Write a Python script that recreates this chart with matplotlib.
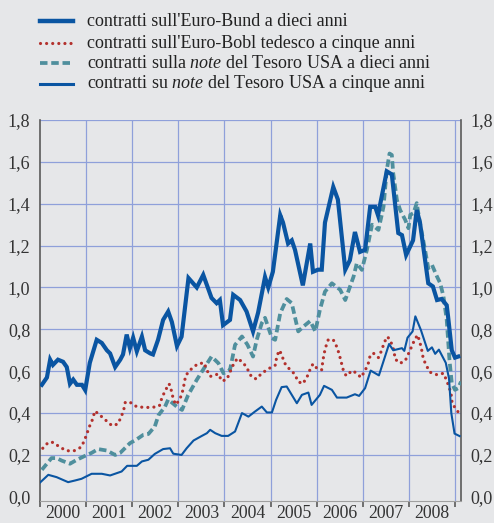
import numpy as np
import matplotlib
matplotlib.use("Agg")
import matplotlib.pyplot as plt
from matplotlib.lines import Line2D

plt.rcParams['font.family'] = ['Liberation Serif', 'DejaVu Serif']
plt.rcParams['mathtext.fontset'] = 'custom'
plt.rcParams['mathtext.rm'] = 'Liberation Serif'
plt.rcParams['mathtext.it'] = 'Liberation Serif:italic'

# --- data (decimal years) ---
bund_t = [2000.04, 2000.15, 2000.22, 2000.28, 2000.39, 2000.50, 2000.58, 2000.65, 2000.72, 2000.80,
          2000.91, 2000.98, 2001.08, 2001.23, 2001.34, 2001.45, 2001.52, 2001.63, 2001.74, 2001.80,
          2001.88, 2001.95, 2002.02, 2002.10, 2002.21, 2002.28, 2002.39, 2002.45, 2002.56, 2002.67,
          2002.78, 2002.86, 2002.97, 2003.07, 2003.22, 2003.40, 2003.54, 2003.72, 2003.83, 2003.90,
          2003.97, 2004.12, 2004.19, 2004.34, 2004.48, 2004.62, 2004.73, 2004.88, 2004.95, 2005.05,
          2005.21, 2005.27, 2005.38, 2005.46, 2005.53, 2005.70, 2005.86, 2005.92, 2006.03, 2006.11,
          2006.18, 2006.36, 2006.46, 2006.62, 2006.72, 2006.83, 2006.94, 2007.05, 2007.16, 2007.27,
          2007.33, 2007.52, 2007.63, 2007.77, 2007.85, 2007.94, 2008.09, 2008.17, 2008.24, 2008.42,
          2008.52, 2008.61, 2008.71, 2008.82, 2008.85, 2008.93, 2009.00, 2009.07]
bund_v = [0.535, 0.57, 0.655, 0.63, 0.655, 0.645, 0.62, 0.54, 0.56, 0.535,
          0.535, 0.51, 0.64, 0.75, 0.735, 0.70, 0.685, 0.62, 0.655, 0.68,
          0.775, 0.71, 0.76, 0.695, 0.765, 0.70, 0.685, 0.68, 0.75, 0.845,
          0.885, 0.835, 0.72, 0.765, 1.045, 1.0, 1.06, 0.95, 0.925, 0.94,
          0.82, 0.845, 0.965, 0.94, 0.885, 0.79, 0.88, 1.05, 1.0, 1.075,
          1.345, 1.31, 1.21, 1.225, 1.18, 1.01, 1.21, 1.075, 1.085, 1.085,
          1.31, 1.48, 1.42, 1.085, 1.13, 1.265, 1.17, 1.18, 1.385, 1.385,
          1.345, 1.555, 1.54, 1.26, 1.25, 1.155, 1.225, 1.37, 1.31, 1.02,
          1.005, 0.94, 0.945, 0.915, 0.86, 0.70, 0.665, 0.67]

bobl_t = [2000.06, 2000.18, 2000.29, 2000.43, 2000.58, 2000.74, 2000.89, 2000.96, 2001.08, 2001.14,
          2001.19, 2001.30, 2001.43, 2001.56, 2001.68, 2001.76, 2001.82, 2001.85, 2001.95, 2002.10,
          2002.28, 2002.44, 2002.59, 2002.64, 2002.71, 2002.80, 2002.86, 2002.89, 2002.95, 2003.04,
          2003.10, 2003.16, 2003.28, 2003.42, 2003.56, 2003.62, 2003.69, 2003.87, 2003.94, 2004.05,
          2004.19, 2004.28, 2004.41, 2004.50, 2004.59, 2004.69, 2004.81, 2004.95, 2005.11, 2005.13,
          2005.19, 2005.24, 2005.30, 2005.41, 2005.52, 2005.60, 2005.70, 2005.79, 2005.86, 2005.92,
          2006.02, 2006.11, 2006.13, 2006.16, 2006.20, 2006.25, 2006.36, 2006.44, 2006.49, 2006.58,
          2006.64, 2006.77, 2006.87, 2006.96, 2007.05, 2007.12, 2007.16, 2007.23, 2007.34, 2007.41,
          2007.47, 2007.54, 2007.63, 2007.68, 2007.70, 2007.81, 2007.92, 2007.99, 2008.06, 2008.13,
          2008.19, 2008.24, 2008.28, 2008.31, 2008.37, 2008.46, 2008.61, 2008.75, 2008.82, 2008.88,
          2008.92, 2008.94, 2009.04, 2009.13]
bobl_v = [0.232, 0.26, 0.26, 0.237, 0.22, 0.22, 0.237, 0.267, 0.34, 0.37,
          0.41, 0.39, 0.365, 0.34, 0.347, 0.38, 0.42, 0.452, 0.452, 0.43,
          0.427, 0.427, 0.435, 0.47, 0.505, 0.54, 0.50, 0.465, 0.44, 0.47,
          0.51, 0.58, 0.61, 0.635, 0.64, 0.605, 0.575, 0.587, 0.553, 0.56,
          0.63, 0.662, 0.64, 0.61, 0.572, 0.563, 0.59, 0.611, 0.63, 0.667,
          0.70, 0.68, 0.64, 0.61, 0.587, 0.55, 0.54, 0.572, 0.61, 0.635,
          0.61, 0.607, 0.643, 0.683, 0.718, 0.75, 0.75, 0.715, 0.68, 0.603,
          0.578, 0.603, 0.59, 0.57, 0.603, 0.638, 0.675, 0.686, 0.665, 0.70,
          0.74, 0.765, 0.73, 0.694, 0.658, 0.638, 0.65, 0.683, 0.718, 0.753,
          0.773, 0.737, 0.699, 0.662, 0.63, 0.595, 0.583, 0.59, 0.555, 0.519,
          0.484, 0.444, 0.415, 0.383]

us10_t = [2000.04, 2000.25, 2000.36, 2000.47, 2000.65, 2000.80, 2000.98, 2001.12, 2001.26, 2001.45,
          2001.63, 2001.74, 2001.95, 2002.10, 2002.24, 2002.35, 2002.49, 2002.57, 2002.71, 2002.78,
          2002.97, 2003.08, 2003.21, 2003.40, 2003.58, 2003.72, 2003.87, 2003.98, 2004.12, 2004.23,
          2004.38, 2004.50, 2004.62, 2004.70, 2004.81, 2004.88, 2005.03, 2005.10, 2005.21, 2005.35,
          2005.46, 2005.60, 2005.71, 2005.86, 2005.97, 2006.07, 2006.18, 2006.33, 2006.51, 2006.62,
          2006.80, 2006.87, 2006.98, 2007.09, 2007.20, 2007.34, 2007.45, 2007.52, 2007.58, 2007.63,
          2007.66, 2007.74, 2007.81, 2007.92, 2007.99, 2008.03, 2008.10, 2008.17, 2008.24, 2008.35,
          2008.42, 2008.50, 2008.61, 2008.68, 2008.75, 2008.82, 2008.88, 2008.93, 2009.00, 2009.07,
          2009.13]
us10_v = [0.129, 0.185, 0.185, 0.173, 0.158, 0.177, 0.196, 0.21, 0.228, 0.221,
          0.20, 0.21, 0.256, 0.275, 0.296, 0.30, 0.336, 0.39, 0.43, 0.465,
          0.43, 0.415, 0.485, 0.559, 0.622, 0.67, 0.638, 0.59, 0.606, 0.726,
          0.766, 0.726, 0.67, 0.75, 0.83, 0.855, 0.758, 0.75, 0.877, 0.945,
          0.925, 0.79, 0.813, 0.84, 0.79, 0.893, 0.98, 1.02, 0.989, 0.94,
          1.052, 1.116, 1.084, 1.18, 1.30, 1.275, 1.386, 1.56, 1.64, 1.633,
          1.546, 1.418, 1.37, 1.323, 1.283, 1.347, 1.355, 1.403, 1.307, 1.18,
          1.092, 1.108, 1.052, 1.02, 0.957, 0.845, 0.654, 0.543, 0.511, 0.519,
          0.55]

us5_t = [2000.00, 2000.18, 2000.36, 2000.61, 2000.76, 2000.90, 2001.12, 2001.34, 2001.52, 2001.77,
         2001.89, 2002.10, 2002.21, 2002.35, 2002.49, 2002.67, 2002.82, 2002.89, 2003.07, 2003.18,
         2003.33, 2003.51, 2003.62, 2003.69, 2003.80, 2003.94, 2004.08, 2004.23, 2004.38, 2004.52,
         2004.66, 2004.81, 2004.92, 2005.03, 2005.12, 2005.24, 2005.35, 2005.57, 2005.68, 2005.82,
         2005.89, 2006.07, 2006.16, 2006.33, 2006.44, 2006.65, 2006.83, 2006.92, 2007.05, 2007.17,
         2007.35, 2007.57, 2007.66, 2007.85, 2007.90, 2007.97, 2008.08, 2008.14, 2008.26, 2008.41,
         2008.50, 2008.57, 2008.65, 2008.80, 2008.87, 2008.92, 2008.99, 2009.10]
us5_v = [0.068, 0.105, 0.094, 0.07, 0.078, 0.086, 0.11, 0.11, 0.102, 0.121,
         0.148, 0.148, 0.169, 0.177, 0.205, 0.228, 0.232, 0.206, 0.20, 0.232,
         0.269, 0.291, 0.304, 0.32, 0.304, 0.291, 0.291, 0.312, 0.40, 0.383,
         0.407, 0.431, 0.403, 0.403, 0.463, 0.524, 0.527, 0.447, 0.487, 0.498,
         0.439, 0.487, 0.53, 0.511, 0.474, 0.474, 0.49, 0.482, 0.519, 0.603,
         0.58, 0.73, 0.70, 0.71, 0.697, 0.76, 0.79, 0.862, 0.797, 0.697,
         0.714, 0.683, 0.703, 0.64, 0.565, 0.40, 0.302, 0.29]

years = list(range(2000, 2009))
labels = ["contratti sull'Euro-Bund a dieci anni",
          "contratti sull'Euro-Bobl tedesco a cinque anni",
          r"contratti sulla $\mathit{note}$ del Tesoro USA a dieci anni",
          r"contratti su $\mathit{note}$ del Tesoro USA a cinque anni"]

bg = '#e6e7e9'
blue = '#0a55a2'
red = '#b3312d'
teal = '#4f8f9d'
grid = '#8fa0da'
axc = '#5a5a5a'

W, H = 494, 523
fig = plt.figure(figsize=(W / 100, H / 100), dpi=100, facecolor=bg)
ax = fig.add_axes([40 / W, 22 / H, 421 / W, 381 / H])
ax.set_facecolor(bg)

ax.set_xlim(2000, 2009.13)
ax.set_ylim(-0.02, 1.8)

# grid
for y in np.arange(0.2, 1.81, 0.2):
    ax.axhline(y, color=grid, lw=0.9, zorder=1)
for yr in range(2001, 2010):
    ax.axvline(yr, color=grid, lw=0.9, zorder=1)

# series
ax.plot(us10_t, us10_v, color=teal, lw=2.7, linestyle=(0, (2.0, 1.0)), zorder=3)
ax.plot(bobl_t, bobl_v, color=red, lw=2.3, linestyle=(0, (0.01, 1.9)),
        dash_capstyle='round', zorder=3)
ax.plot(us5_t, us5_v, color=blue, lw=1.5, zorder=4)
ax.plot(bund_t, bund_v, color=blue, lw=3.0, zorder=4, solid_joinstyle='miter')

# axes styling
ax.spines['top'].set_visible(False)
for s in ['left', 'right']:
    ax.spines[s].set_color(axc)
    ax.spines[s].set_linewidth(1.2)
ax.spines['bottom'].set_color('#a0a0a0')
ax.spines['bottom'].set_linewidth(0.8)

ax.set_xticks(range(2000, 2010))
ax.set_xticklabels([])
ax.set_xticks([y + 0.5 for y in years], minor=True)
ax.set_xticklabels([str(y) for y in years], minor=True)
ax.tick_params(axis='x', which='major', direction='out', length=4, width=1.2, color=axc)
ax.tick_params(axis='x', which='minor', length=0, pad=3, labelsize=12.8, labelcolor='#333333')

yt = np.arange(0, 1.81, 0.2)
ax.set_yticks(yt)
ax.set_yticklabels([f"{v:.1f}".replace('.', ',') for v in yt])
ax.tick_params(axis='y', length=0, pad=7, labelsize=13, labelcolor='#333333',
               labelleft=True, labelright=True)

# legend drawn by hand
rows = [21, 43, 63, 84]
styles = [dict(color=blue, lw=3.2),
          dict(color=red, lw=2.3, linestyle=(0, (0.01, 1.9)), dash_capstyle='round'),
          dict(color=teal, lw=2.7, linestyle=(0, (2.0, 1.0))),
          dict(color=blue, lw=2.2)]
for r, st, lab in zip(rows, styles, labels):
    yf = 1 - r / H
    fig.add_artist(Line2D([40 / W, 73 / W], [yf, yf], transform=fig.transFigure, **st))
    fig.text(87 / W, yf, lab, fontsize=13, color='#222222', va='center', ha='left')

fig.savefig('out.png', dpi=100, facecolor=bg)
